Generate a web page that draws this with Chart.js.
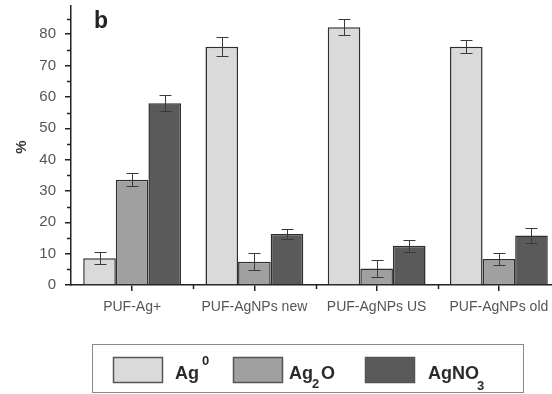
<!DOCTYPE html>
<html>
<head>
<meta charset="utf-8">
<script src="https://cdn.jsdelivr.net/npm/chart.js@4"></script>
<style>
    html, body { margin: 0; padding: 0; background: #fff; overflow: hidden; }
    #wrap { width: 560px; height: 394px; }
</style>
</head>
<body>
<div id="wrap"><canvas id="silver-chart"></canvas></div>
<script>
// 시료별 은 화학종 분포 (%)
const samples = ["PUF-Ag+", "PUF-AgNPs new", "PUF-AgNPs US", "PUF-AgNPs old"];
const ag0 = [8.5, 76, 82.2, 76];
const ag0Err = [1.9, 3, 2.5, 2];
const ag2o = [33.6, 7.4, 5.3, 8.3];
const ag2oErr = [2, 2.7, 2.6, 1.9];
const agno3 = [58, 16.3, 12.5, 15.8];
const agno3Err = [2.5, 1.5, 2, 2.4];
const yTicks = [0, 10, 20, 30, 40, 50, 60, 70, 80];

const FONT = "'Liberation Sans', Arial, Helvetica, sans-serif";
const fills = ["#dadada", "#a0a0a0", "#5a5a5a"];
const errors = [ag0Err, ag2oErr, agno3Err];

// 오차 막대, 보조 눈금, 패널 라벨, 범례
const extras = {
    id: "extras",
    afterDatasetsDraw(chart) {
        const { ctx, scales: { x, y } } = chart;
        ctx.save();
        ctx.strokeStyle = "#3a3a3a";
        ctx.lineWidth = 1;
        chart.data.datasets.forEach((ds, i) => {
            const meta = chart.getDatasetMeta(i);
            meta.data.forEach((bar, j) => {
                const v = ds.data[j], e = errors[i][j];
                const top = Math.round(y.getPixelForValue(v + e)) + 0.5;
                const bot = Math.round(y.getPixelForValue(v - e)) + 0.5;
                const cx = Math.round(bar.x) + 0.5;
                ctx.beginPath();
                ctx.moveTo(cx, top); ctx.lineTo(cx, bot);
                ctx.moveTo(cx - 6, top); ctx.lineTo(cx + 6, top);
                ctx.moveTo(cx - 6, bot); ctx.lineTo(cx + 6, bot);
                ctx.stroke();
            });
        });
        ctx.restore();
    },
    afterDraw(chart) {
        const { ctx, scales: { x, y } } = chart;
        ctx.save();
        ctx.strokeStyle = "#222";
        ctx.lineWidth = 1.5;
        // y 보조 눈금 (5 단위)
        for (let v = 5; v <= 85; v += 10) {
            const py = Math.round(y.getPixelForValue(v)) + 0.5;
            ctx.beginPath();
            ctx.moveTo(x.left - 4, py); ctx.lineTo(x.left, py);
            ctx.stroke();
        }
        // x 구간 경계 눈금
        const step = (x.right - x.left) / samples.length;
        for (let k = 1; k < samples.length; k++) {
            const px = Math.round(x.left + step * k) + 0.5;
            ctx.beginPath();
            ctx.moveTo(px, y.bottom); ctx.lineTo(px, y.bottom + 4);
            ctx.stroke();
        }

        // 패널 라벨
        ctx.fillStyle = "#222";
        ctx.font = "bold 23px " + FONT;
        ctx.textAlign = "left";
        ctx.textBaseline = "alphabetic";
        ctx.fillText("b", 94, 28);

        // y축 제목
        ctx.save();
        ctx.translate(22, 147);
        ctx.rotate(-Math.PI / 2);
        ctx.font = "bold 15px " + FONT;
        ctx.fillStyle = "#333";
        ctx.textAlign = "center";
        ctx.textBaseline = "middle";
        ctx.fillText("%", 0, 0);
        ctx.restore();

        // 범례
        ctx.strokeStyle = "#8a8a8a";
        ctx.lineWidth = 1;
        ctx.strokeRect(92.5, 344.5, 431, 48);
        const swatchX = [113, 233, 365];
        swatchX.forEach((sx, i) => {
            ctx.fillStyle = fills[i];
            ctx.fillRect(sx, 357, 50, 26);
            ctx.strokeStyle = "#555";
            ctx.lineWidth = 1.5;
            ctx.strokeRect(sx + 0.5, 357.5, 49, 25);
        });
        ctx.fillStyle = "#2a2a2a";
        const big = "bold 18px " + FONT, small = "bold 13px " + FONT;
        ctx.textAlign = "left";
        ctx.textBaseline = "alphabetic";
        // Ag⁰
        ctx.font = big;
        ctx.fillText("Ag", 175, 379);
        ctx.font = small;
        ctx.fillText("0", 202, 365);
        // Ag₂O
        ctx.font = big;
        ctx.fillText("Ag", 289, 379);
        ctx.font = small;
        ctx.fillText("2", 312, 388);
        ctx.font = big;
        ctx.fillText("O", 321, 379);
        // AgNO₃
        ctx.font = big;
        ctx.fillText("AgNO", 428, 379);
        ctx.font = small;
        ctx.fillText("3", 477, 390);
        ctx.restore();
    }
};

const ctx = document.getElementById("silver-chart").getContext("2d");
new Chart(ctx, {
    type: "bar",
    data: {
        labels: samples,
        datasets: [
            { label: "Ag0", data: ag0, backgroundColor: fills[0] },
            { label: "Ag2O", data: ag2o, backgroundColor: fills[1] },
            { label: "AgNO3", data: agno3, backgroundColor: fills[2] }
        ].map(d => Object.assign(d, {
            borderColor: "#2e2e2e",
            borderWidth: 1.5,
            borderSkipped: "bottom",
            barPercentage: 1,
            categoryPercentage: 0.8
        }))
    },
    options: {
        responsive: true,
        maintainAspectRatio: false,
        animation: false,
        layout: { padding: { top: 6, right: 0, bottom: 0, left: 0 } },
        plugins: { legend: { display: false }, tooltip: { enabled: false } },
        scales: {
            x: {
                afterFit: s => { s.height = 109; s.paddingLeft = 0; s.paddingRight = 0; },
                grid: { display: true, drawOnChartArea: false, offset: false, tickLength: 6, color: "#222", lineWidth: 1.5 },
                border: { color: "#222", width: 1.5 },
                ticks: { color: "#555", font: { family: FONT, size: 14 }, padding: 8, maxRotation: 0, autoSkip: false }
            },
            y: {
                min: 0,
                max: 89,
                afterFit: s => { s.width = 71; s.paddingTop = 0; s.paddingBottom = 0; },
                afterBuildTicks: s => { s.ticks = yTicks.map(v => ({ value: v })); },
                grid: { drawOnChartArea: false, tickLength: 6, color: "#222", lineWidth: 1.5 },
                border: { color: "#222", width: 1.5 },
                ticks: { color: "#555", font: { family: FONT, size: 15 }, padding: 9 }
            }
        }
    },
    plugins: [extras]
});
</script>
</body>
</html>
